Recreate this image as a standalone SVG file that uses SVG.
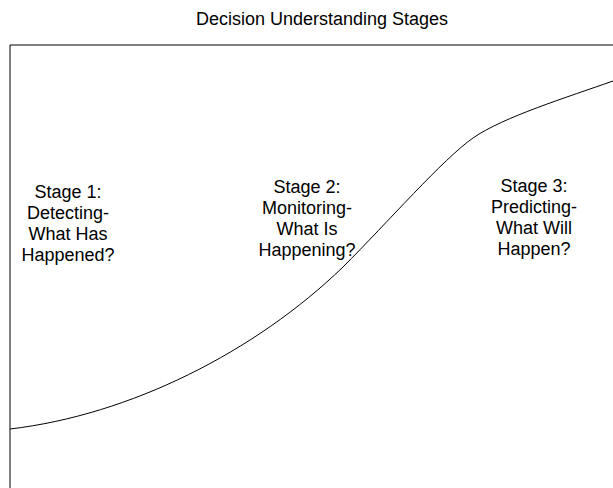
<svg xmlns="http://www.w3.org/2000/svg" width="613" height="488" viewBox="0 0 613 488">
<style>
text{font-family:"Liberation Sans",Arial,sans-serif;font-size:18px;fill:#000;text-anchor:middle}
.ln{fill:none;stroke:#000;stroke-width:1}
</style>
<rect width="613" height="488" fill="#fff"/>
<text x="322" y="25">Decision Understanding Stages</text>
<g id="frame"><path class="ln" d="M10,500 V45 H620"/></g>
<g id="connectors"><path class="ln" d="M10,429 C130,415 255,352 343,267 C388,222 443,159 473,138 C503,117 568,97 613,81"/></g>
<g id="stage1"><text x="68" y="198">Stage 1:</text><text x="68" y="219">Detecting-</text><text x="68" y="240">What Has</text><text x="68" y="261">Happened?</text></g>
<g id="stage2"><text x="307" y="193">Stage 2:</text><text x="307" y="214">Monitoring-</text><text x="307" y="235">What Is</text><text x="307" y="256">Happening?</text></g>
<g id="stage3"><text x="534" y="192">Stage 3:</text><text x="534" y="213">Predicting-</text><text x="534" y="234">What Will</text><text x="534" y="255">Happen?</text></g>
</svg>
